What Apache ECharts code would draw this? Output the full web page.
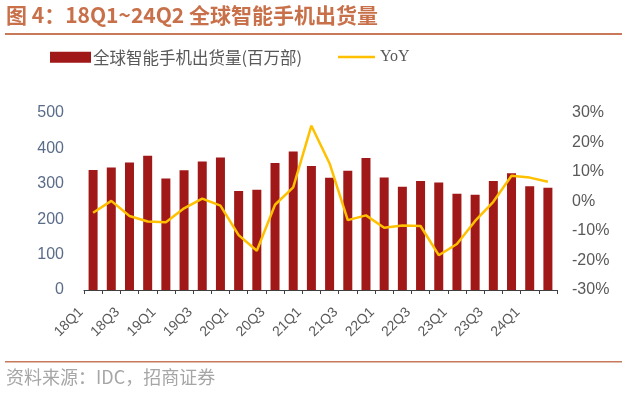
<!DOCTYPE html>
<html>
<head>
<meta charset="utf-8">
<script src="https://cdn.jsdelivr.net/npm/echarts@6/dist/echarts.min.js"></script>
<style>
  html, body { margin: 0; padding: 0; background: #fff; }
  #chart { width: 622px; height: 397px; }
</style>
</head>
<body>
<div id="chart"></div>
<script>
// 季度
var quarters = ['18Q1','18Q2','18Q3','18Q4','19Q1','19Q2','19Q3','19Q4',
  '20Q1','20Q2','20Q3','20Q4','21Q1','21Q2','21Q3','21Q4',
  '22Q1','22Q2','22Q3','22Q4','23Q1','23Q2','23Q3','23Q4','24Q1','24Q2'];
// 全球智能手机出货量（百万部）
var shipments = [339, 346, 360, 379, 315, 338, 363, 374,
  280, 283, 359, 391, 350, 317, 337, 373,
  318, 292, 308, 304, 272, 269, 308, 330, 293, 289];
// 同比（%）
var yoy = [-3.8, 0.2, -4.9, -6.8, -7.0, -2.3, 1.0, -1.4,
  -11.4, -16.7, -1.1, 4.8, 25.7, 12.9, -6.3, -4.7,
  -8.9, -8.1, -8.3, -18.2, -14.4, -6.6, -0.1, 8.7, 8.1, 6.7];

var cjk = '"Noto Sans CJK SC", "Noto Sans", sans-serif';
var latin = 'Arial, "Liberation Sans", sans-serif';
var myChart = echarts.init(document.getElementById('chart'));

var option = {
  animation: false,
  textStyle: { fontFamily: cjk },
  graphic: [
    { // 标题
      type: 'text', left: 6, top: 5,
      style: { text: '图 4：18Q1~24Q2 全球智能手机出货量', fill: '#c8704a',
        font: 'bold 21px ' + cjk }
    },
    { type: 'rect', shape: { x: 5, y: 33, width: 617, height: 2 }, style: { fill: '#c8795a' } },
    { type: 'rect', shape: { x: 5, y: 361, width: 617, height: 1.5 }, style: { fill: '#c8795a' } },
    { // 资料来源
      type: 'text', left: 6, top: 368,
      style: { text: '资料来源：IDC，招商证券', fill: '#a6a6a6', font: '18px ' + cjk }
    }
  ],
  legend: [
    {
      left: 45, top: 44, itemWidth: 41, itemHeight: 11, itemGap: 4,
      data: [{ name: '全球智能手机出货量(百万部)', icon: 'rect' }],
      textStyle: { color: '#595959', fontSize: 16.5, fontFamily: cjk, padding: [0, 0, 0, -3] }
    },
    {
      left: 333, top: 44, itemWidth: 37, itemHeight: 2.5,
      data: [{ name: 'YoY', icon: 'rect' }],
      textStyle: { color: '#595959', fontSize: 16, fontFamily: '"Liberation Serif", "DejaVu Serif", serif' }
    }
  ],
  grid: { left: 84, right: 65, top: 113, bottom: 107 },
  xAxis: {
    type: 'category',
    data: quarters,
    axisLine: { lineStyle: { color: '#404040', width: 1 } },
    axisTick: { show: true, interval: 0, length: 4, lineStyle: { color: '#404040' } },
    axisLabel: { interval: 1, rotate: 45, color: '#595959', fontSize: 14, margin: 8,
      padding: [0, 17, 0, 0], fontFamily: latin }
  },
  yAxis: [
    {
      type: 'value', min: 0, max: 500, interval: 100, position: 'left',
      splitLine: { show: false },
      axisLine: { show: false }, axisTick: { show: false },
      axisLabel: { color: '#5a6c8a', fontSize: 16, margin: 20, fontFamily: latin }
    },
    {
      type: 'value', min: -30, max: 30, interval: 10, position: 'right',
      splitLine: { show: false },
      axisLine: { show: false }, axisTick: { show: false },
      axisLabel: { color: '#595959', fontSize: 16, margin: 15, formatter: '{value}%', fontFamily: latin }
    }
  ],
  series: [
    {
      name: '全球智能手机出货量(百万部)',
      type: 'bar',
      barWidth: 9,
      itemStyle: { color: '#a01818' },
      data: shipments
    },
    {
      name: 'YoY',
      type: 'line',
      yAxisIndex: 1,
      symbol: 'none',
      lineStyle: { color: '#ffc000', width: 2.5 },
      itemStyle: { color: '#ffc000' },
      data: yoy
    }
  ]
};

myChart.setOption(option);
</script>
</body>
</html>
